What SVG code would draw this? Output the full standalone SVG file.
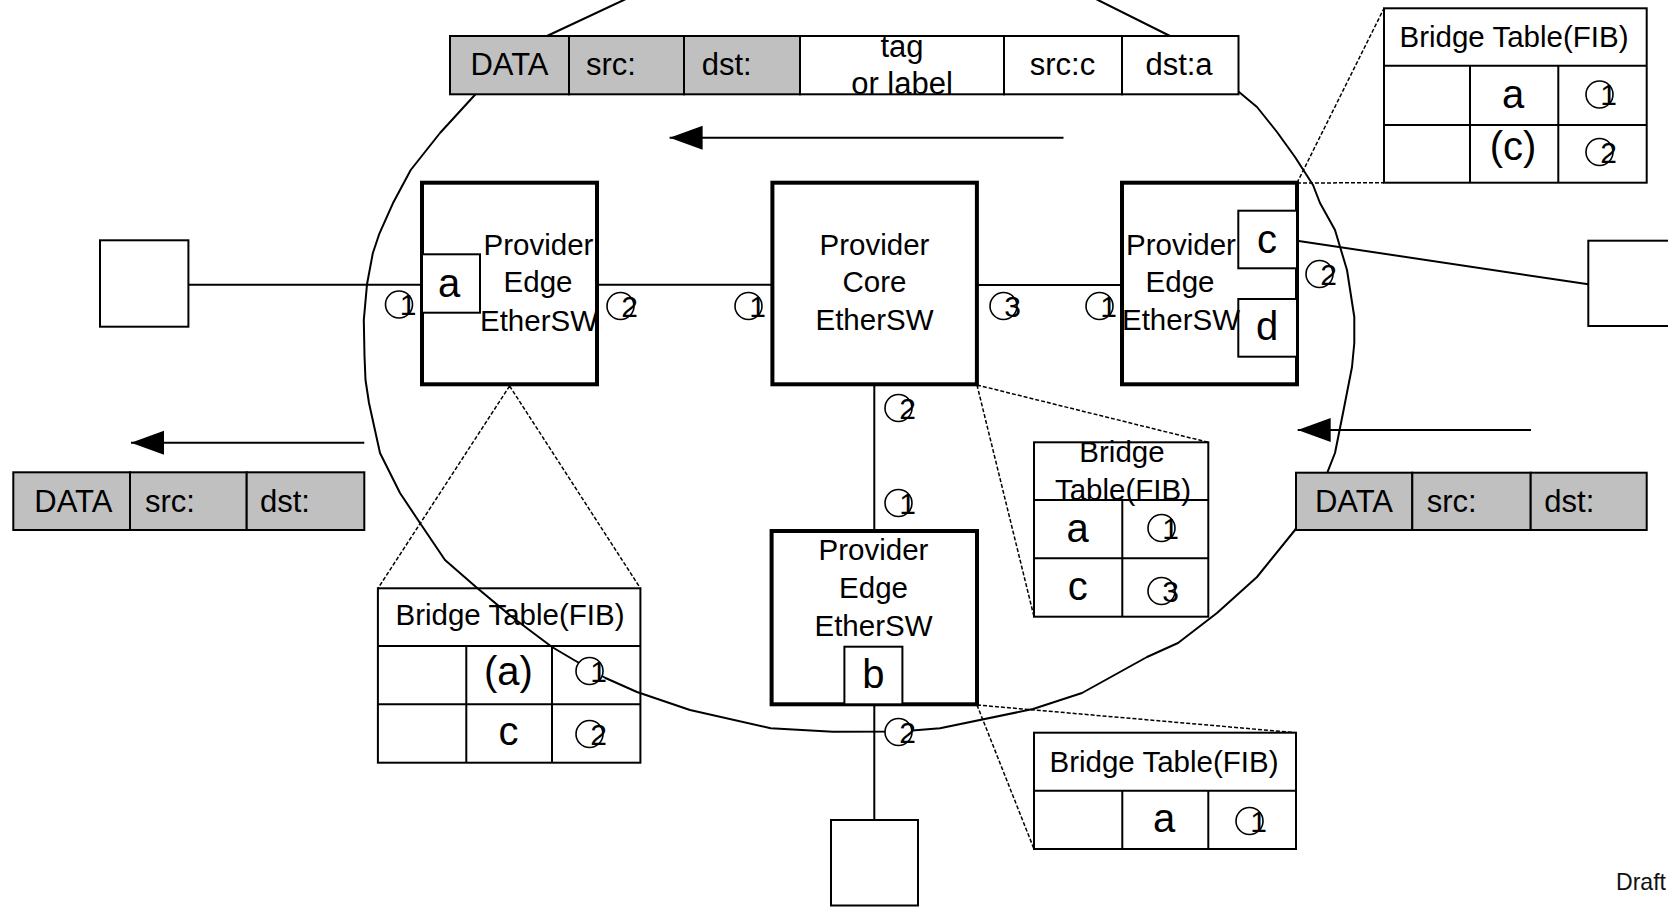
<svg xmlns="http://www.w3.org/2000/svg" width="1668" height="907" viewBox="0 0 1668 907">
  <style>
    text { font-family: "Liberation Sans", Arial, Helvetica, sans-serif; fill: #000; }
    .lbl { font-size: 29.5px; text-anchor: middle; }
    .pkt { font-size: 31px; }
    .mid { text-anchor: middle; }
    .big { font-size: 40px; text-anchor: middle; }
    .ln { fill: none; stroke: #000; stroke-width: 2; }
    .node { fill: #fff; stroke: #000; stroke-width: 4; }
    .box { fill: #fff; stroke: #000; stroke-width: 2; }
    .gray { fill: #c0c0c0; stroke: #000; stroke-width: 2; }
    .dash { fill: none; stroke: #000; stroke-width: 1.5; stroke-dasharray: 4 2; }
    .domain { fill: none; stroke: #000; stroke-width: 2; stroke-linejoin: round; }
    .pc { fill: #fff; stroke: #000; stroke-width: 1.6; }
  </style>
  <defs>
    <marker id="arrowhead" markerUnits="userSpaceOnUse" markerWidth="34" markerHeight="26" viewBox="0 0 34 26" refX="33" refY="13" orient="auto">
      <path d="M0,1 L33,13 L0,25 Z" fill="#000"/>
    </marker>
  </defs>

  <rect x="0" y="0" width="1668" height="907" fill="#fff"/>

  <!-- callout lines from switches to their bridge tables -->
  <g id="callouts">
    <path class="dash" d="M509.6,386 L378,588.3 M509.6,386 L640.4,588.3"/>
    <path class="dash" d="M977,385 L1208.3,442.3 M977,385 L1034,616.7"/>
    <path class="dash" d="M977,705 L1296,732.7 M977,705 L1034,849"/>
    <path class="dash" d="M1297,183 L1384,8.3 M1297,183 L1384,182.7"/>
  </g>

  <!-- bridge tables (FIB) -->
  <g id="fib-pe-right">
    <rect class="box" x="1384" y="8.3" width="262.7" height="174.4"/>
    <path class="ln" d="M1384,65.7 H1646.7 M1384,125 H1646.7 M1470,65.7 V182.7 M1558.3,65.7 V182.7"/>
    <text class="lbl" x="1514" y="46.7">Bridge Table(FIB)</text>
    <text class="big" x="1513" y="108.3">a</text>
    <text class="big" x="1513" y="160">(c)</text>
  </g>
  <g id="fib-pe-left">
    <rect class="box" x="377.9" y="588.3" width="262.5" height="174.4"/>
    <path class="ln" d="M377.9,646 H640.4 M377.9,704.3 H640.4 M466.3,646 V762.7 M552,646 V762.7"/>
    <text class="lbl" x="510" y="625">Bridge Table(FIB)</text>
    <text class="big" x="508.5" y="685">(a)</text>
    <text class="big" x="508.5" y="745">c</text>
  </g>
  <g id="fib-core">
    <rect class="box" x="1034" y="442.3" width="174.3" height="174.4"/>
    <path class="ln" d="M1034,500 H1208.3 M1034,558.3 H1208.3 M1122.3,500 V616.7"/>
    <text class="lbl" x="1122" y="461.7">Bridge</text>
    <text class="lbl" x="1123" y="500">Table(FIB)</text>
    <text class="big" x="1077.7" y="541.7">a</text>
    <text class="big" x="1077.7" y="600">c</text>
  </g>
  <g id="fib-pe-bottom">
    <rect class="box" x="1034" y="732.7" width="262" height="116.3"/>
    <path class="ln" d="M1034,790.7 H1296 M1122.3,790.7 V849 M1208.3,790.7 V849"/>
    <text class="lbl" x="1164" y="771.7">Bridge Table(FIB)</text>
    <text class="big" x="1164" y="831.7">a</text>
  </g>

  <!-- provider network boundary -->
  <path id="provider-domain" class="domain" d="M662,-18 L623.7,0 L547,36 L475.7,94 L440,133 L410.7,170 L392.9,203.3 L379.5,233.3 L372.8,253.3 L367,284.3 L363.8,320 L364.5,356 L365.5,380 L369,403 L380,453 L400,493 L420,523 L445,560 L476,587 L512,617 L552,647 L574,660 L605.5,678 L637,692 L690,710 L770.7,728.3 L833,731.7 L900,731.5 L940,728.3 L1033,709 L1082,693 L1147,657 L1178,643 L1217,613 L1257,577 L1295,530 L1327.7,471.7 L1335,453 L1343,413 L1352,367 L1354.3,343 L1354.3,317 L1347,270 L1335,230 L1320,203 L1313,185 L1295,157 L1277,132 L1257,107 L1239,92 L1170,36 L1098,0 L1062,-18 Z"/>

  <!-- links between hosts and switches, and frame direction arrows -->
  <g id="connectors">
    <line class="ln" x1="188.4" y1="284.7" x2="422" y2="284.7"/>
    <line class="ln" x1="597" y1="284.7" x2="772.4" y2="284.7"/>
    <line class="ln" x1="977" y1="285" x2="1122" y2="285"/>
    <line class="ln" x1="1297" y1="240.7" x2="1588.3" y2="284.3"/>
    <line class="ln" x1="874.3" y1="384" x2="874.3" y2="531"/>
    <line class="ln" x1="874.3" y1="704" x2="874.3" y2="820"/>
    <line class="ln" x1="1063.5" y1="137.7" x2="669.6" y2="137.7" marker-end="url(#arrowhead)"/>
    <line class="ln" x1="1531" y1="430" x2="1297.7" y2="430" marker-end="url(#arrowhead)"/>
    <line class="ln" x1="364.3" y1="442.7" x2="131" y2="442.7" marker-end="url(#arrowhead)"/>
  </g>

  <!-- frames -->
  <g id="frame-tagged">
    <rect class="gray" x="450" y="36" width="119" height="58.3"/>
    <rect class="gray" x="569" y="36" width="115" height="58.3"/>
    <rect class="gray" x="684" y="36" width="116" height="58.3"/>
    <rect class="box" x="800" y="36" width="204" height="58.3"/>
    <rect class="box" x="1004" y="36" width="118" height="58.3"/>
    <rect class="box" x="1122" y="36" width="116.5" height="58.3"/>
    <text class="pkt mid" x="509.5" y="75">DATA</text>
    <text class="pkt" x="586" y="75">src:</text>
    <text class="pkt" x="701.7" y="75">dst:</text>
    <text class="pkt mid" x="902" y="57">tag</text>
    <text class="pkt mid" x="902" y="94">or label</text>
    <text class="pkt mid" x="1062.5" y="75">src:c</text>
    <text class="pkt mid" x="1179" y="75">dst:a</text>
  </g>
  <g id="frame-left">
    <rect class="gray" x="13.3" y="472.3" width="116.7" height="57.7"/>
    <rect class="gray" x="130" y="472.3" width="116.7" height="57.7"/>
    <rect class="gray" x="246.7" y="472.3" width="117.6" height="57.7"/>
    <text class="pkt mid" x="73.3" y="511.7">DATA</text>
    <text class="pkt" x="145" y="511.7">src:</text>
    <text class="pkt" x="260" y="511.7">dst:</text>
  </g>
  <g id="frame-right">
    <rect class="gray" x="1296" y="472.7" width="116.3" height="57.3"/>
    <rect class="gray" x="1412.3" y="472.7" width="118.4" height="57.3"/>
    <rect class="gray" x="1530.7" y="472.7" width="116" height="57.3"/>
    <text class="pkt mid" x="1354" y="511.7">DATA</text>
    <text class="pkt" x="1426.7" y="511.7">src:</text>
    <text class="pkt" x="1544.3" y="511.7">dst:</text>
  </g>

  <!-- hosts -->
  <g id="host-left">
    <rect class="box" x="100" y="240.3" width="88.4" height="86.4"/>
  </g>
  <g id="host-right">
    <rect class="box" x="1588.3" y="240.7" width="100" height="85.3"/>
  </g>
  <g id="host-bottom">
    <rect class="box" x="831" y="820" width="87" height="85.5"/>
  </g>

  <!-- switches -->
  <g id="pe-left">
    <rect class="node" x="422" y="182.7" width="175" height="201.6"/>
    <rect class="box" x="422" y="254.3" width="58" height="58.4"/>
    <text class="big" x="449" y="296.7">a</text>
    <text class="lbl" x="538.5" y="255">Provider</text>
    <text class="lbl" x="538" y="291.7">Edge</text>
    <text class="lbl" x="539" y="330.7">EtherSW</text>
  </g>
  <g id="core">
    <rect class="node" x="772.4" y="182.7" width="204.5" height="201.6"/>
    <text class="lbl" x="874.5" y="255">Provider</text>
    <text class="lbl" x="874.5" y="291.7">Core</text>
    <text class="lbl" x="874.5" y="330">EtherSW</text>
  </g>
  <g id="pe-right">
    <rect class="node" x="1122" y="182.7" width="175" height="201.6"/>
    <rect class="box" x="1238.3" y="210.7" width="58.7" height="57.6"/>
    <rect class="box" x="1238.3" y="299" width="58.7" height="57.7"/>
    <text class="big" x="1267" y="253.3">c</text>
    <text class="big" x="1267" y="340">d</text>
    <text class="lbl" x="1181" y="255">Provider</text>
    <text class="lbl" x="1180" y="291.7">Edge</text>
    <text class="lbl" x="1181" y="330">EtherSW</text>
  </g>
  <g id="pe-bottom">
    <rect class="node" x="771.6" y="531" width="205.4" height="173.3"/>
    <rect class="box" x="844.4" y="646.7" width="58" height="57.6"/>
    <text class="big" x="873.4" y="688.3">b</text>
    <text class="lbl" x="873.5" y="560">Provider</text>
    <text class="lbl" x="873.5" y="598.3">Edge</text>
    <text class="lbl" x="873.5" y="636">EtherSW</text>
  </g>

  <!-- port numbers -->
  <g id="ports" font-size="30" text-anchor="middle" style="font-size:30px">
    <g><circle class="pc" cx="399" cy="304.5" r="13.5"/><text x="408" y="315">1</text></g>
    <g><circle class="pc" cx="620.5" cy="306" r="13.5"/><text x="629.5" y="316.5">2</text></g>
    <g><circle class="pc" cx="748.5" cy="306" r="13.5"/><text x="757.5" y="316.5">1</text></g>
    <g><circle class="pc" cx="1003.5" cy="306" r="13.5"/><text x="1012.5" y="316.5">3</text></g>
    <g><circle class="pc" cx="1099.5" cy="306" r="13.5"/><text x="1108.5" y="316.5">1</text></g>
    <g><circle class="pc" cx="1319.5" cy="274" r="13.5"/><text x="1328.5" y="284.5">2</text></g>
    <g><circle class="pc" cx="898.5" cy="408" r="13.5"/><text x="907.5" y="418.5">2</text></g>
    <g><circle class="pc" cx="898.5" cy="503" r="13.5"/><text x="907.5" y="513.5">1</text></g>
    <g><circle class="pc" cx="898.5" cy="732" r="13.5"/><text x="907.5" y="742.5">2</text></g>
    <g><circle class="pc" cx="1599.5" cy="94.5" r="13.5"/><text x="1608.5" y="105">1</text></g>
    <g><circle class="pc" cx="1599.5" cy="152" r="13.5"/><text x="1608.5" y="162.5">2</text></g>
    <g><circle class="pc" cx="589.5" cy="671" r="13.5"/><text x="598.5" y="681.5">1</text></g>
    <g><circle class="pc" cx="589.5" cy="734" r="13.5"/><text x="598.5" y="744.5">2</text></g>
    <g><circle class="pc" cx="1161.5" cy="528" r="13.5"/><text x="1170.5" y="538.5">1</text></g>
    <g><circle class="pc" cx="1161.5" cy="591" r="13.5"/><text x="1170.5" y="601.5">3</text></g>
    <g><circle class="pc" cx="1249.5" cy="821" r="13.5"/><text x="1258.5" y="831.5">1</text></g>
  </g>

  <text x="1616" y="890" textLength="50" lengthAdjust="spacingAndGlyphs" style="font-size:24px; fill:#111;">Draft</text>
</svg>
